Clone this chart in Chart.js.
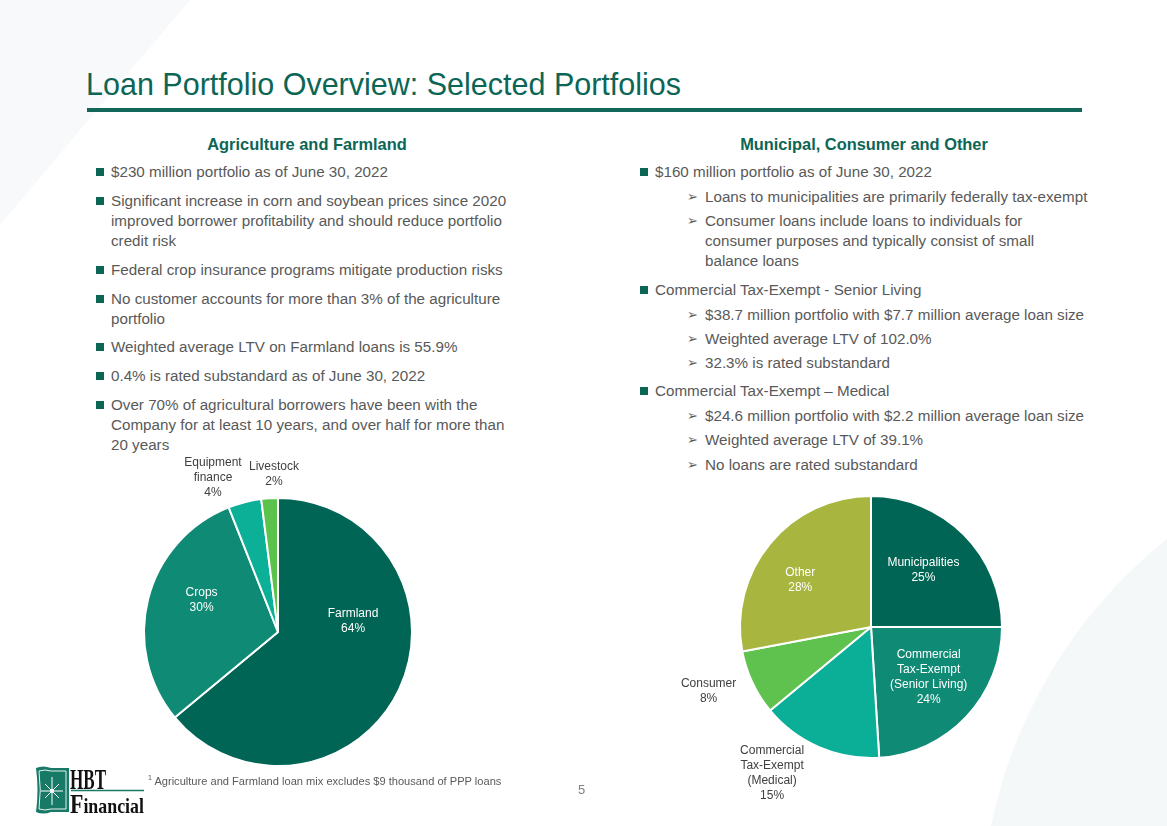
<!DOCTYPE html>
<html>
<head>
<meta charset="utf-8">
<script src="https://cdn.jsdelivr.net/npm/chart.js@4.4.0/dist/chart.umd.min.js"></script>
<style>
  body { margin: 0; width: 1167px; height: 826px; background: #fff; overflow: hidden; position: relative;
         font-family: 'Liberation Sans', Arial, sans-serif; }
  .abs { position: absolute; }
  .title { left: 86px; top: 66px; font-size: 30.5px; color: #0b6656; white-space: nowrap; line-height: 36px; }
  .rule { left: 87px; top: 108px; width: 995px; height: 4px; background: #12665a; }
  .head { font-size: 16.4px; font-weight: bold; color: #0b6656; top: 134px; white-space: nowrap; line-height: 20px; transform: translateX(-50%); }
  .p { font-size: 15.2px; line-height: 20px; color: #595959; white-space: nowrap; }
  .sq { position: absolute; left: -15px; top: 6px; width: 8px; height: 8px; background: #0b6656; }
  .ar { position: absolute; left: -18px; top: 0; font-size: 13px; color: #595959; font-family: 'DejaVu Sans', sans-serif; }
  .note { left: 148px; top: 774px; font-size: 11.1px; color: #595959; white-space: nowrap; }
  .pg { left: 578px; top: 782px; font-size: 13px; color: #7f7f7f; }
  canvas { position: absolute; }
</style>
</head>
<body>
<svg class="abs" style="left:0;top:0" width="1167" height="826">
  <polygon points="0,0 190,0 80,130 0,225" fill="#f7f9fa"/>
  <circle cx="1475" cy="925" r="494" fill="#f5f8f9"/>
</svg>

<div class="abs title">Loan Portfolio Overview: Selected Portfolios</div>
<div class="abs rule"></div>

<div class="abs head" style="left:307px">Agriculture and Farmland</div>
<div class="abs p" style="left:111px;top:162px"><span class="sq"></span>$230 million portfolio as of June 30, 2022</div>
<div class="abs p" style="left:111px;top:191px"><span class="sq"></span>Significant increase in corn and soybean prices since 2020<br>improved borrower profitability and should reduce portfolio<br>credit risk</div>
<div class="abs p" style="left:111px;top:260px"><span class="sq"></span>Federal crop insurance programs mitigate production risks</div>
<div class="abs p" style="left:111px;top:289px"><span class="sq"></span>No customer accounts for more than 3% of the agriculture<br>portfolio</div>
<div class="abs p" style="left:111px;top:337px"><span class="sq"></span>Weighted average LTV on Farmland loans is 55.9%</div>
<div class="abs p" style="left:111px;top:366px"><span class="sq"></span>0.4% is rated substandard as of June 30, 2022</div>
<div class="abs p" style="left:111px;top:395px"><span class="sq"></span>Over 70% of agricultural borrowers have been with the<br>Company for at least 10 years, and over half for more than<br>20 years</div>

<div class="abs head" style="left:864px">Municipal, Consumer and Other</div>
<div class="abs p" style="left:655px;top:162px"><span class="sq"></span>$160 million portfolio as of June 30, 2022</div>
<div class="abs p" style="left:705px;top:187px"><span class="ar">&#10146;</span>Loans to municipalities are primarily federally tax-exempt</div>
<div class="abs p" style="left:705px;top:211px"><span class="ar">&#10146;</span>Consumer loans include loans to individuals for<br>consumer purposes and typically consist of small<br>balance loans</div>
<div class="abs p" style="left:655px;top:280px"><span class="sq"></span>Commercial Tax-Exempt - Senior Living</div>
<div class="abs p" style="left:705px;top:305px"><span class="ar">&#10146;</span>$38.7 million portfolio with $7.7 million average loan size</div>
<div class="abs p" style="left:705px;top:329px"><span class="ar">&#10146;</span>Weighted average LTV of 102.0%</div>
<div class="abs p" style="left:705px;top:353px"><span class="ar">&#10146;</span>32.3% is rated substandard</div>
<div class="abs p" style="left:655px;top:381px"><span class="sq"></span>Commercial Tax-Exempt &ndash; Medical</div>
<div class="abs p" style="left:705px;top:406px"><span class="ar">&#10146;</span>$24.6 million portfolio with $2.2 million average loan size</div>
<div class="abs p" style="left:705px;top:430px"><span class="ar">&#10146;</span>Weighted average LTV of 39.1%</div>
<div class="abs p" style="left:705px;top:455px"><span class="ar">&#10146;</span>No loans are rated substandard</div>

<canvas id="agChart" width="360" height="360" style="left:98px;top:452px"></canvas>
<canvas id="muniChart" width="390" height="390" style="left:676px;top:432px"></canvas>

<svg class="abs" style="left:33px;top:765px" width="114" height="52">
  <path d="M3,3 Q10,0 18,3 L36,3 L36,47 L18,47 Q10,50 3,47 Q6,25 3,3 Z" fill="#177a66"/>
  <path d="M6,6 Q12,4 18,6 L33,6 L33,44 L18,44 Q12,46 6,44 Q8.5,25 6,6 Z" fill="none" stroke="#e6f2ee" stroke-width="1"/>
  <g stroke="#fff" stroke-width="1">
    <line x1="19" y1="12" x2="19" y2="40"/><line x1="8" y1="26" x2="30" y2="26"/>
    <line x1="12" y1="19" x2="26" y2="33"/><line x1="26" y1="19" x2="12" y2="33"/>
  </g>
  <circle cx="19" cy="26" r="2" fill="#fff"/>
  <text x="37" y="23.5" font-family="Liberation Serif, serif" font-weight="bold" font-size="29" fill="#111" textLength="36" lengthAdjust="spacingAndGlyphs">HBT</text>
  <line x1="38" y1="25.5" x2="111" y2="25.5" stroke="#177a66" stroke-width="1.5"/>
  <text x="37" y="47.5" font-family="Liberation Serif, serif" font-weight="bold" font-size="22" fill="#111" textLength="74" lengthAdjust="spacingAndGlyphs"><tspan font-size="27">F</tspan>inancial</text>
</svg>
<div class="abs note"><sup style="font-size:7px">1</sup> Agriculture and Farmland loan mix excludes $9 thousand of PPP loans</div>
<div class="abs pg">5</div>

<script>
// Agriculture and Farmland mix (%)
const agCategories = ['Farmland', 'Crops', ['Equipment', 'finance'], 'Livestock'];
const agValues = [64, 30, 4, 2];
const agColors = ['#006554', '#0f8a75', '#0bb096', '#5bc24c'];

// Municipal, Consumer and Other mix (%)
const muniCategories = ['Municipalities', ['Commercial', 'Tax-Exempt', '(Senior Living)'], ['Commercial', 'Tax-Exempt', '(Medical)'], 'Consumer', 'Other'];
const muniValues = [25, 24, 15, 8, 28];
const muniColors = ['#006554', '#0f8a75', '#0bae96', '#5fc24f', '#a8b63f'];

// draws "name / xx%" labels, placed relative to each arc's centre (in units of radius)
const pieLabels = {
    id: 'pieLabels',
    afterDatasetsDraw(chart, args, opts) {
        const ctx = chart.ctx;
        const meta = chart.getDatasetMeta(0);
        const ds = chart.data.datasets[0];
        ctx.save();
        ctx.font = '12px "Liberation Sans", Arial, sans-serif';
        ctx.textAlign = 'center';
        ctx.textBaseline = 'middle';
        meta.data.forEach((arc, i) => {
            const { x, y, outerRadius } = arc.getProps(['x', 'y', 'outerRadius'], true);
            const off = opts.offsets[i];
            const lines = [].concat(chart.data.labels[i], ds.data[i] + '%');
            const cx = x + off[0] * outerRadius;
            const cy = y + off[1] * outerRadius;
            const lh = 15;
            ctx.fillStyle = opts.inside[i] ? '#ffffff' : '#404040';
            lines.forEach((t, k) => {
                ctx.fillText(t, cx, cy + (k - (lines.length - 1) / 2) * lh);
            });
        });
        ctx.restore();
    }
};

const makePie = (el, labels, values, colors, radius, offsets, inside) => {
    return new Chart(document.querySelector(el), {
        type: 'pie',
        data: {
            labels: labels,
            datasets: [{
                data: values,
                backgroundColor: colors,
                borderColor: '#ffffff',
                borderWidth: 2
            }]
        },
        options: {
            responsive: false,
            animation: false,
            radius: radius,
            layout: { padding: 0 },
            plugins: {
                legend: { display: false },
                tooltip: { enabled: false },
                pieLabels: { offsets: offsets, inside: inside }
            }
        },
        plugins: [pieLabels]
    });
};

makePie('#agChart', agCategories, agValues, agColors, 134,
    [[0.56, -0.08], [-0.57, -0.24], [-0.485, -1.15], [-0.03, -1.175]],
    [true, true, false, false]);

makePie('#muniChart', muniCategories, muniValues, muniColors, 131,
    [[0.40, -0.435], [0.44, 0.38], [-0.755, 1.115], [-1.24, 0.49], [-0.54, -0.36]],
    [true, true, false, false, true]);
</script>
</body>
</html>
